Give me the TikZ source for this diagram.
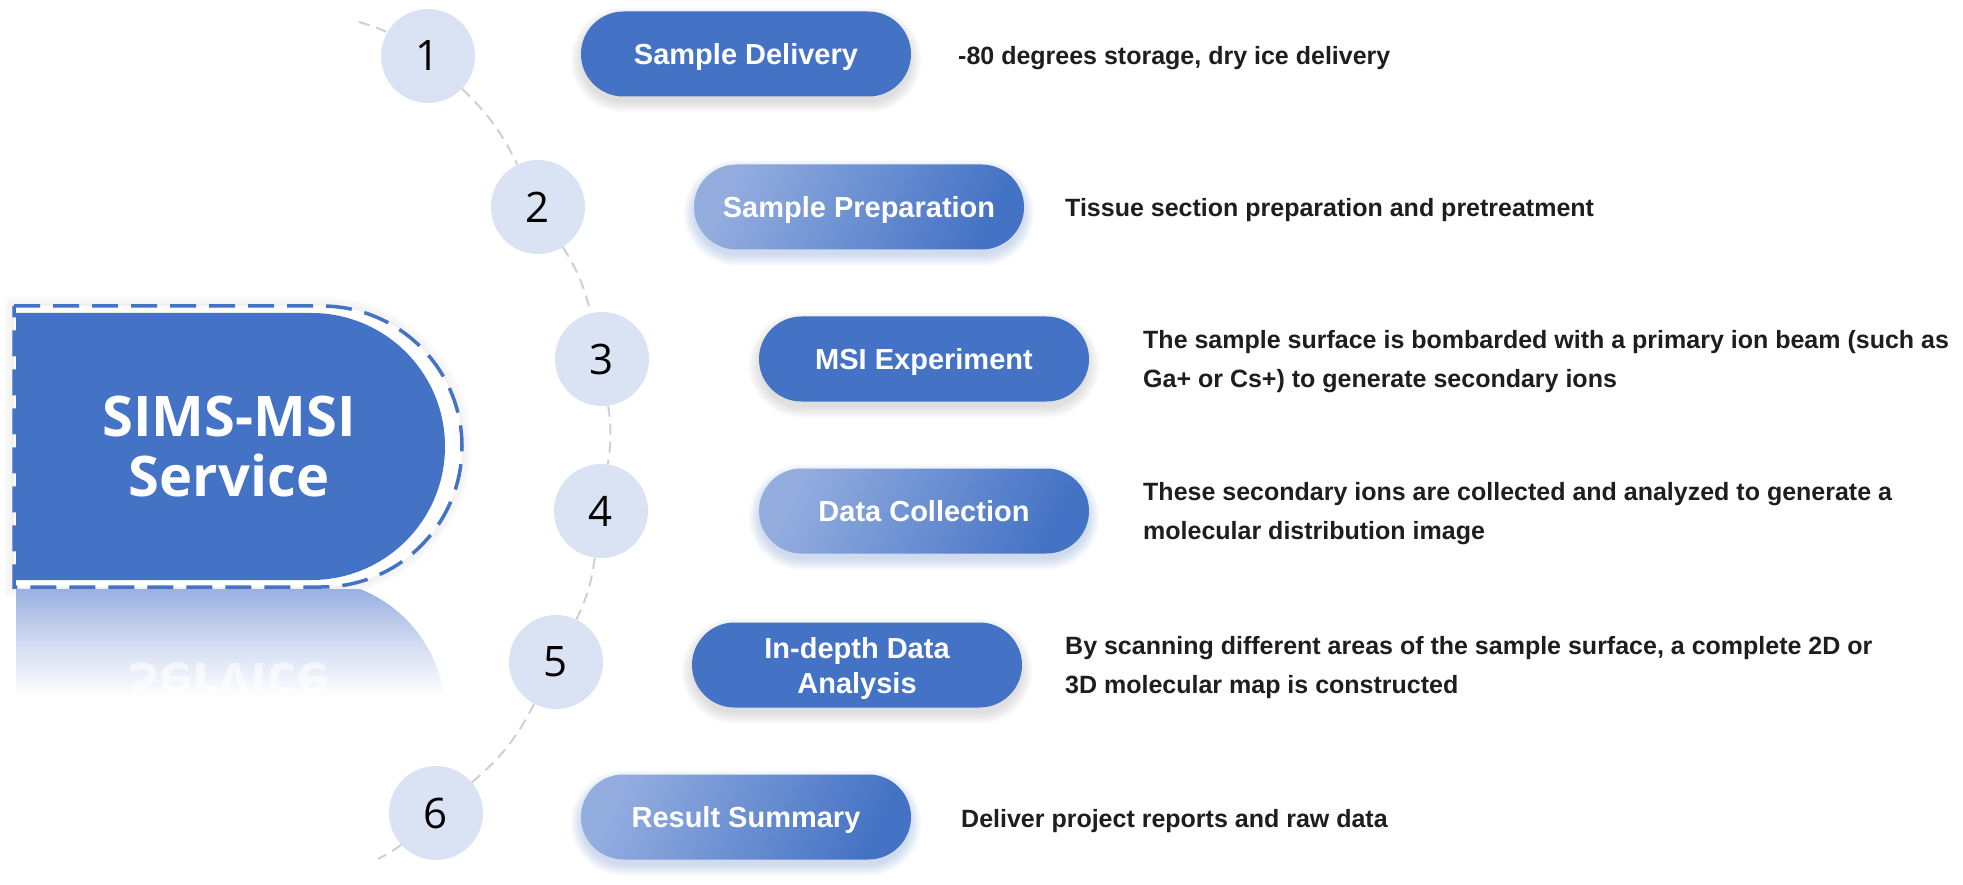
\documentclass[tikz,border=0pt]{standalone}
\usepackage{fontspec}
\setmainfont{Liberation Sans}
\newfontfamily\osans{Open Sans}
\usetikzlibrary{shapes.misc,backgrounds}
\definecolor{mblue}{HTML}{4472C4}
\definecolor{lblue}{HTML}{93ADDF}
\definecolor{cfill}{HTML}{DAE3F3}
\definecolor{txt}{HTML}{1E1E1E}
\definecolor{dgrey}{HTML}{D0D0D0}
\definecolor{refl}{HTML}{9AB0E0}
\newcommand{\pillglow}[3]{%
  \foreach \k [evaluate=\k as \r using 42.5+\k] in {0,2,...,10}{%
    \fill[#3, opacity=0.045, rounded corners=\r pt] ({#1-165-\k},{#2-6-42.5-\k}) rectangle ({#1+165+\k},{#2-6+42.5+\k});}}
\begin{document}
\begin{tikzpicture}[x=1pt,y=1pt,
  pill/.style={rounded rectangle, minimum width=330pt, minimum height=85pt, inner sep=0pt, text depth=0pt, text=white, align=center, font=\bfseries\fontsize{29}{35}\selectfont},
  solidpill/.style={pill, fill=mblue},
  gradpill/.style={pill, left color=lblue, right color=mblue, shading angle=65},
  numcircle/.style={circle, fill=cfill, minimum size=94pt, inner sep=0pt, text=black, font=\osans\fontsize{42}{42}\selectfont},
  desc/.style={anchor=west, align=left, inner sep=0pt, text depth=0pt, text=txt, font=\bfseries\fontsize{25}{39}\selectfont},
  guide/.style={draw=dgrey, line width=2pt, dash pattern=on 11pt off 7pt},
  bigfont/.style={font=\osans\bfseries\fontsize{56}{60}\selectfont}
]
\useasboundingbox (0,0) rectangle (1963,-885);
\begin{pgfonlayer}{background}
\fill[white] (0,0) rectangle (1963,-885);
\end{pgfonlayer}

% soft halo of the central shape
\foreach \k in {2,4,...,10}{%
  \fill[gray, opacity=0.025] ({14-\k},{-306+\k}) -- (321.5,{-306+\k}) arc[start angle=90, end angle=-90, radius={140.5+\k}] -- ({14-\k},{-587-\k}) -- cycle;}
\fill[white] (14,-306) -- (321.5,-306) arc[start angle=90, end angle=-90, radius=140.5] -- (14,-587) -- cycle;

% central shape
\fill[mblue] (16,-313) -- (311.5,-313) arc[start angle=90, end angle=-90, radius=133.5] -- (16,-580) -- cycle;
\draw[mblue, line width=3.5pt, dash pattern=on 26pt off 13pt] (14,-306) -- (321.5,-306) arc[start angle=90, end angle=-90, radius=140.5] -- (14,-587) -- cycle;
\node[bigfont, text=white, align=center, inner sep=0pt] (sims) at (229,-446) {SIMS-MSI\\Service};

% reflection
\begin{scope}
  \clip (16,-580) -- (311.5,-580) arc[start angle=90, end angle=-90, radius=133.5] -- (16,-847) -- cycle;
  \clip (0,-589.5) rectangle (470,-710);
  \shade[top color=refl, bottom color=white, middle color=refl!45] (0,-589) rectangle (470,-697);
  \begin{scope}[shift={(229,-580)}, yscale=-1]
    \node[bigfont, text=white, transform shape, inner sep=0pt, opacity=0.6] (srefl) at (0,104) {Service};
  \end{scope}
\end{scope}

% glows
\pillglow{746}{-54}{gray}
\pillglow{859}{-207}{mblue}
\pillglow{924}{-359}{gray}
\pillglow{924}{-511}{mblue}
\pillglow{857}{-665}{gray}
\pillglow{746}{-817}{mblue}

% circles
\node[numcircle] (c1) at (428,-56) {1};
\node[numcircle] (c2) at (538,-207) {2};
\node[numcircle] (c3) at (602,-359) {3};
\node[numcircle] (c4) at (601,-511) {4};
\node[numcircle] (c5) at (556,-662) {5};
\node[numcircle] (c6) at (436,-813) {6};

\coordinate (gtop) at (359,-22);
\coordinate (gbot) at (378,-859);
\begin{pgfonlayer}{background}
\draw[guide] (gtop) to[bend left=4] (c1);
\draw[guide] (c1) to[bend left=10] (c2);
\draw[guide] (c2) to[bend left=9] (c3);
\draw[guide] (c3) to[bend left=8] (c4);
\draw[guide] (c4) to[bend left=9] (c5);
\draw[guide] (c5) to[bend left=11] (c6);
\draw[guide] (c6) to[bend left=4] (gbot);
\end{pgfonlayer}

% pills
\node[solidpill] (p1) at (746,-54) {Sample Delivery};
\node[gradpill] (p2) at (859,-207) {Sample Preparation};
\node[solidpill] (p3) at (924,-359) {MSI Experiment};
\node[gradpill] (p4) at (924,-511) {Data Collection};
\node[solidpill] (p5) at (857,-665) {In-depth Data\\Analysis};
\node[gradpill] (p6) at (746,-817) {Result Summary};

% descriptions
\node[desc] (d1) at (958,-55) {-80 degrees storage, dry ice delivery};
\node[desc] (d2) at (1065,-207) {Tissue section preparation and pretreatment};
\node[desc] (d3) at (1143,-359) {The sample surface is bombarded with a primary ion beam (such as\\Ga+ or Cs+) to generate secondary ions};
\node[desc] (d4) at (1143,-511) {These secondary ions are collected and analyzed to generate a\\molecular distribution image};
\node[desc] (d5) at (1065,-665) {By scanning different areas of the sample surface, a complete 2D or\\3D molecular map is constructed};
\node[desc] (d6) at (961,-818) {Deliver project reports and raw data};
\end{tikzpicture}
\end{document}
